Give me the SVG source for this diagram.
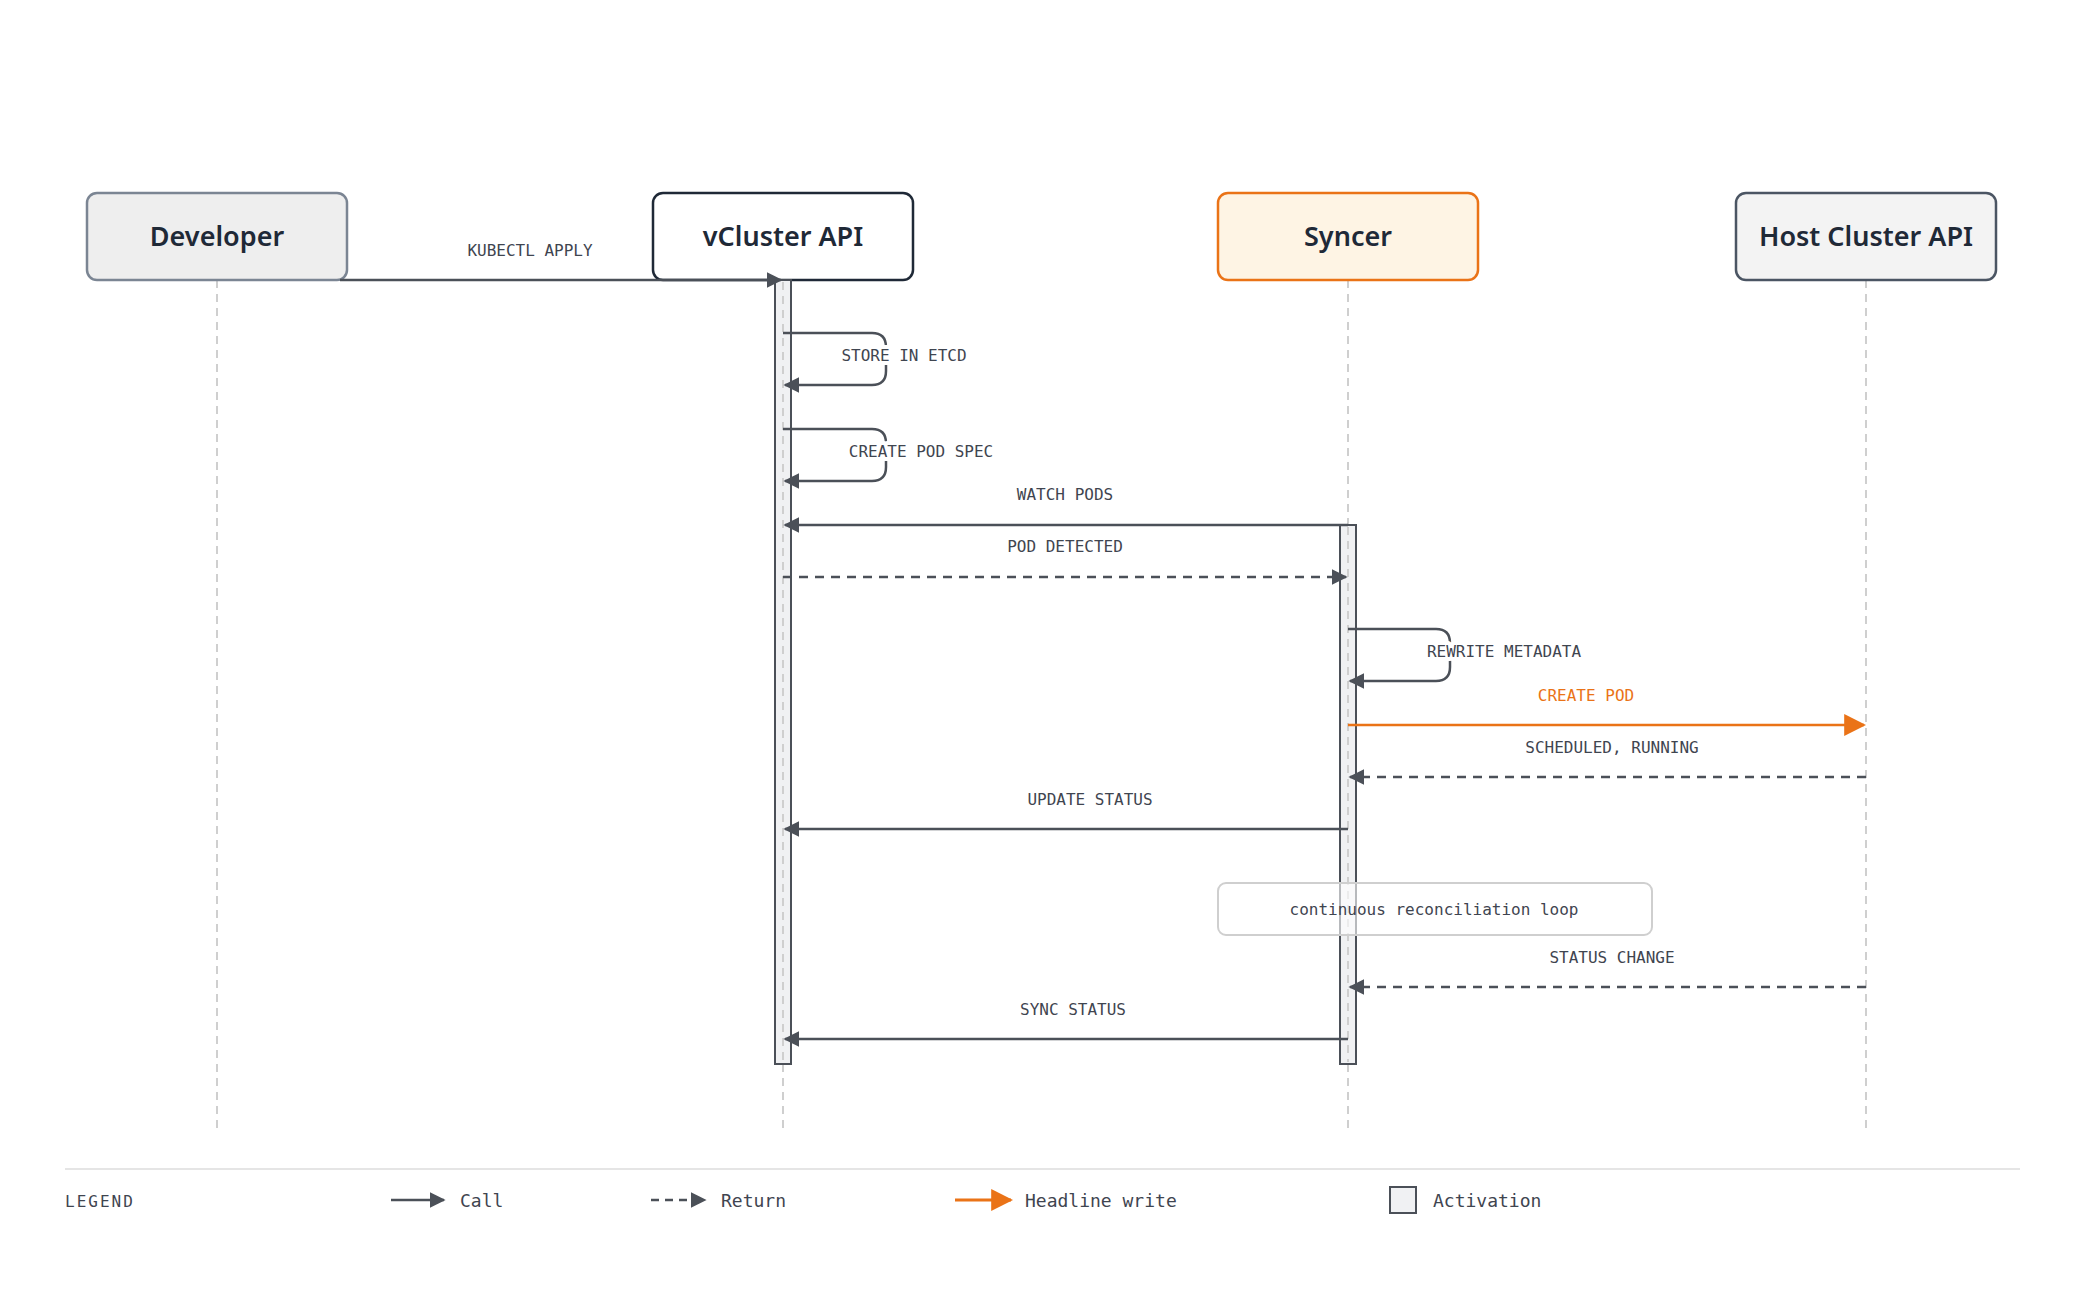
<svg xmlns="http://www.w3.org/2000/svg" width="2080" height="1302" viewBox="0 0 2080 1302">
<defs>
<marker id="ah" viewBox="0 0 10 10" refX="9" refY="5" markerWidth="16" markerHeight="16" markerUnits="userSpaceOnUse" orient="auto"><path d="M0,0 L10,5 L0,10 z" fill="#4b5058"/></marker>
<marker id="ao" viewBox="0 0 10 10" refX="9" refY="5" markerWidth="22" markerHeight="22" markerUnits="userSpaceOnUse" orient="auto"><path d="M0,0 L10,5 L0,10 z" fill="#ea7317"/></marker>
</defs>
<style>
.t{font-family:"Noto Sans","Open Sans",sans-serif;font-size:27px;font-weight:600;fill:#1f2937;text-anchor:middle}
.l{font-family:"DejaVu Sans Mono","Liberation Mono",monospace;font-size:16px;fill:#3f4550;text-anchor:middle}
.h{stroke:#ffffff;stroke-width:8px;paint-order:stroke;stroke-linejoin:round}
.life{stroke:#cfcfcf;stroke-width:2;stroke-dasharray:8 6}
.act{fill:#f0f1f3;stroke:#4b5058;stroke-width:2}
.m{stroke:#4b5058;stroke-width:2.5;fill:none;marker-end:url(#ah)}
.d{stroke-dasharray:9 7}
.lg{font-family:"DejaVu Sans Mono","Liberation Mono",monospace;font-size:18px;fill:#3f4550}
</style>
<rect width="2080" height="1302" fill="#ffffff"/>
<g id="lifelines">
<line class="life" x1="217" y1="280" x2="217" y2="1128"/>
<line class="life" x1="783" y1="280" x2="783" y2="1128"/>
<line class="life" x1="1348" y1="280" x2="1348" y2="1128"/>
<line class="life" x1="1866" y1="280" x2="1866" y2="1128"/>
</g>
<g id="developer"><rect x="87" y="193" width="260" height="87" rx="10" fill="#eeeeee" stroke="#7b8593" stroke-width="2.5"/><text class="t" x="217" y="246">Developer</text></g>
<g id="vcluster"><rect x="653" y="193" width="260" height="87" rx="10" fill="#ffffff" stroke="#1f2937" stroke-width="2.5"/><text class="t" x="783" y="246">vCluster API</text></g>
<g id="syncer"><rect x="1218" y="193" width="260" height="87" rx="10" fill="#fef4e4" stroke="#ea7317" stroke-width="2.5"/><text class="t" x="1348" y="246">Syncer</text></g>
<g id="host"><rect x="1736" y="193" width="260" height="87" rx="10" fill="#f3f3f3" stroke="#4b5563" stroke-width="2.5"/><text class="t" x="1866" y="246">Host Cluster API</text></g>
<g id="activations">
<rect class="act" x="775" y="280" width="16" height="784"/>
<line class="life" x1="783" y1="282" x2="783" y2="1062"/>
<rect class="act" x="1340" y="525" width="16" height="539"/>
<line class="life" x1="1348" y1="527" x2="1348" y2="1062"/>
</g>
<g id="note"><rect x="1218" y="883" width="434" height="52" rx="8" fill="#ffffff" fill-opacity="0.6" stroke="#cfcfcf" stroke-width="2"/><text class="l" x="1434" y="915">continuous reconciliation loop</text></g>
<g id="connectors">
<path class="m" d="M340,280 H781"/>
<text class="l" x="530" y="256">KUBECTL APPLY</text>
<path class="m" d="M783,333 H872 Q886,333 886,347 V371 Q886,385 872,385 H785"/>
<text class="l h" x="904" y="361">STORE IN ETCD</text>
<path class="m" d="M783,429 H872 Q886,429 886,443 V467 Q886,481 872,481 H785"/>
<text class="l h" x="921" y="457">CREATE POD SPEC</text>
<path class="m" d="M1348,525 H785"/>
<text class="l" x="1065" y="500">WATCH PODS</text>
<path class="m d" d="M783,577 H1346"/>
<text class="l" x="1065" y="552">POD DETECTED</text>
<path class="m" d="M1348,629 H1436 Q1450,629 1450,643 V667 Q1450,681 1436,681 H1350"/>
<text class="l h" x="1504" y="657">REWRITE METADATA</text>
<path d="M1348,725 H1864" stroke="#ea7317" stroke-width="2.5" fill="none" marker-end="url(#ao)"/>
<text class="l" x="1586" y="701" style="fill:#ea7317">CREATE POD</text>
<path class="m d" d="M1866,777 H1350"/>
<text class="l" x="1612" y="753">SCHEDULED, RUNNING</text>
<path class="m" d="M1348,829 H785"/>
<text class="l" x="1090" y="805">UPDATE STATUS</text>
<path class="m d" d="M1866,987 H1350"/>
<text class="l" x="1612" y="963">STATUS CHANGE</text>
<path class="m" d="M1348,1039 H785"/>
<text class="l" x="1073" y="1015">SYNC STATUS</text>
</g>
<g id="legend">
<line x1="65" y1="1169" x2="2020" y2="1169" stroke="#e5e5e5" stroke-width="2"/>
<text class="lg" x="65" y="1207" style="font-size:16px;letter-spacing:2px">LEGEND</text>
<path class="m" d="M391,1200 H444"/>
<text class="lg" x="460" y="1207">Call</text>
<path class="m d" d="M651,1200 H705" style="stroke-dasharray:8 6"/>
<text class="lg" x="721" y="1207">Return</text>
<path d="M955,1200 H1011" stroke="#ea7317" stroke-width="3" fill="none" marker-end="url(#ao)"/>
<text class="lg" x="1025" y="1207">Headline write</text>
<rect class="act" x="1390" y="1187" width="26" height="26"/>
<text class="lg" x="1433" y="1207">Activation</text>
</g>
</svg>
